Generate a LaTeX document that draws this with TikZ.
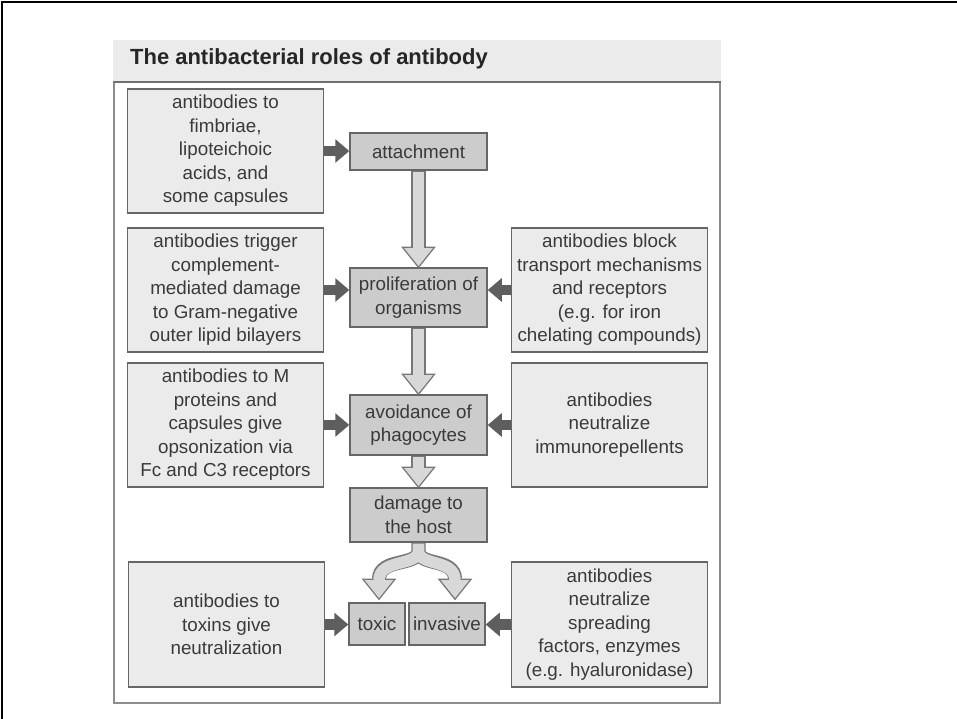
\documentclass[tikz,border=0pt]{standalone}
\usepackage{fontspec}
\setmainfont{Liberation Sans}
\usepackage{tikz}
\usetikzlibrary{arrows.meta,calc}
\definecolor{boxfill}{HTML}{EBEBEB}
\definecolor{procfill}{HTML}{CCCCCC}
\definecolor{boxline}{HTML}{666666}
\definecolor{txt}{HTML}{3A3A3A}
\definecolor{darkarr}{HTML}{5E5E5E}
\definecolor{hfill}{HTML}{D8D8D8}
\definecolor{hline}{HTML}{777777}
\definecolor{framegray}{HTML}{8C8C8C}
\tikzset{side/.style={draw=boxline,fill=boxfill,line width=.8pt,align=center,text=txt,inner sep=0pt,minimum width=3.92cm,minimum height=2.48cm,font=\fontsize{10.7}{13.4}\selectfont},proc/.style={side,fill=procfill,minimum width=2.74cm},push/.style={-{Triangle[length=8pt,width=13pt]},draw=darkarr,line width=6pt},hout/.style={draw=hline,line width=8pt},hin/.style={draw=hfill,line width=6.6pt},hhead/.style={draw=hline,fill=hfill,line width=.7pt}}

\begin{document}
\begin{tikzpicture}[x=0.02cm,y=-0.02cm]
\useasboundingbox (0,0) rectangle (957,719);
\draw[line width=1.6pt] (957,2)--(2,2)--(2,719);
\fill[boxfill] (113,40) rectangle (721,82);
\draw[framegray,line width=.8pt] (114,82) rectangle (720,703);
\draw[framegray!80!black,line width=1.2pt] (113,82)--(721,82);
\node[anchor=west,font=\fontsize{12.5}{14}\selectfont\bfseries,text=black!85] (title) at (124,59) {The antibacterial roles of antibody};
% left column
\node[side] (a1) at (225.5,151) {antibodies to\\fimbriae,\\lipoteichoic\\acids, and\\some capsules};
\node[side] (b1) at (225.5,290) {antibodies trigger\\complement-\\mediated damage\\to Gram-negative\\outer lipid bilayers};
\node[side] (c1) at (225.5,425) {antibodies to M\\proteins and\\capsules give\\opsonization via\\Fc and C3 receptors};
\node[side,minimum height=2.5cm] (d1) at (226.5,624.5) {antibodies to\\toxins give\\neutralization};
% middle column
\node[proc,minimum height=.74cm] (att) at (418.5,151.5) {attachment};
\node[proc,minimum height=1.18cm] (prol) at (418.5,297.5) {proliferation of\\organisms};
\node[proc,minimum height=1.2cm] (avoid) at (418.5,425) {avoidance of\\phagocytes};
\node[proc,minimum height=1.08cm] (dmg) at (418.5,515) {damage to\\the host};
\node[proc,minimum width=1.12cm,minimum height=.84cm] (toxic) at (377,624) {toxic};
\node[proc,minimum width=1.52cm,minimum height=.84cm] (inv) at (447,624) {invasive};
% right column
\node[side] (b2) at (609.5,290) {antibodies block\\transport mechanisms\\and receptors\\(e.g. for iron\\chelating compounds)};
\node[side] (c2) at (609.5,425) {antibodies\\neutralize\\immunorepellents};
\node[side,minimum height=2.5cm] (d2) at (609.5,624.5) {antibodies\\neutralize\\spreading\\factors, enzymes\\(e.g. hyaluronidase)};
% antibody actions
\draw[push] (a1.east)--(a1.east-|att.west);
\draw[push] (b1.east)--(b1.east-|prol.west);
\draw[push] (b2.west)--(b2.west-|prol.east);
\draw[push] (c1.east)--(c1.east-|avoid.west);
\draw[push] (c2.west)--(c2.west-|avoid.east);
\draw[push] (d1.east)--(d1.east-|toxic.west);
\draw[push] (d2.west)--(d2.west-|inv.east);
% course of infection
\foreach \a/\b in {att/prol,prol/avoid,avoid/dmg}{
\draw[hout] (\a.south)--($(\b.north)+(0,-20)$);
\draw[hhead] (\b.north)--++(-16,-20)--++(32,0)--cycle;
\draw[hin] ([yshift=-.5pt]\a.south)--($(\b.north)+(0,-19)$);
}
\coordinate (split) at ($(dmg.south)+(0,8)$);
\draw[hout] (dmg.south)--(split) .. controls ($(split)+(0,16)$) and ($(toxic.north)+(2,-45)$) .. ($(toxic.north)+(2,-23)$)
 (split) .. controls ($(split)+(0,16)$) and ($(inv.north)+(8,-45)$) .. ($(inv.north)+(8,-23)$);
\draw[hhead] ($(toxic.north)+(2,-3)$)--++(-16,-20)--++(32,0)--cycle;
\draw[hhead] ($(inv.north)+(8,-3)$)--++(-16,-20)--++(32,0)--cycle;
\draw[hin] ([yshift=-.5pt]dmg.south)--(split) .. controls ($(split)+(0,16)$) and ($(toxic.north)+(2,-44)$) .. ($(toxic.north)+(2,-22)$)
 (split) .. controls ($(split)+(0,16)$) and ($(inv.north)+(8,-44)$) .. ($(inv.north)+(8,-22)$);
\end{tikzpicture}
\end{document}
